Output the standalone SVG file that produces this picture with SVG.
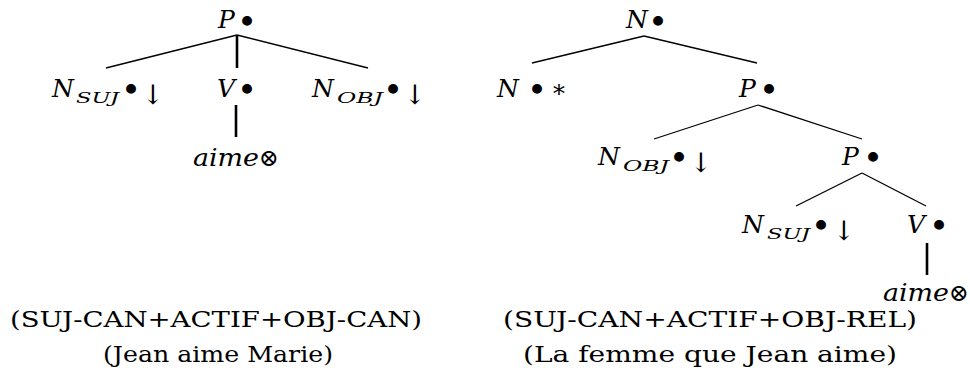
<svg xmlns="http://www.w3.org/2000/svg" width="970" height="382" viewBox="0 0 970 382" font-family="DejaVu Serif, serif">
<style>
text{fill:#000}
.m{font-size:25px;font-style:italic}
.s{font-size:15px;font-style:italic}
.b{font-size:34px;font-style:normal;text-anchor:middle}
.ar{font-size:27px;font-style:normal;text-anchor:middle}
.sym{font-size:24px;font-style:normal;text-anchor:middle}
.c{font-size:22px;text-anchor:middle}
.t{stroke:#000;stroke-width:1.3;fill:none}
.k{stroke:#000;stroke-width:2.6;fill:none}
</style>
<rect width="970" height="382" fill="#fff"/>
<g id="connectors">
<line class="t" x1="237" y1="35" x2="106" y2="68"/>
<line class="k" x1="237" y1="35" x2="237" y2="68"/>
<line class="t" x1="237" y1="35" x2="368" y2="68"/>
<line class="k" x1="236" y1="105" x2="236" y2="137"/>
<line class="t" x1="644" y1="36" x2="532" y2="63"/>
<line class="t" x1="644" y1="36" x2="757" y2="63"/>
<line class="t" x1="758" y1="105" x2="654" y2="139"/>
<line class="t" x1="758" y1="105" x2="862" y2="139"/>
<line class="t" x1="862" y1="173" x2="796" y2="206"/>
<line class="t" x1="862" y1="173" x2="926" y2="206"/>
<line class="k" x1="927" y1="243" x2="927" y2="275"/>
</g>
<g id="L_P"><text class="m" x="218" y="28">P</text><text class="b" x="247" y="33.5">•</text></g>
<g id="L_NSUJ"><text class="m" x="52" y="97">N</text><text class="s" x="76" y="103" textLength="43" lengthAdjust="spacingAndGlyphs">SUJ</text><text class="b" x="131" y="102">•</text><text class="ar" x="153" y="104">↓</text></g>
<g id="L_V"><text class="m" x="217" y="97">V</text><text class="b" x="247" y="102">•</text></g>
<g id="L_NOBJ"><text class="m" x="312" y="97">N</text><text class="s" x="337" y="103" textLength="46" lengthAdjust="spacingAndGlyphs">OBJ</text><text class="b" x="393" y="102">•</text><text class="ar" x="415" y="104">↓</text></g>
<g id="L_aime"><text class="m" x="193" y="166" textLength="66" lengthAdjust="spacingAndGlyphs">aime</text><text class="sym" x="269" y="166">⊗</text></g>
<g id="R_N"><text class="m" x="626" y="28">N</text><text class="b" x="658" y="33.5">•</text></g>
<g id="R_Nfoot"><text class="m" x="497" y="97">N</text><text class="b" x="537" y="102">•</text><text class="sym" x="559" y="97">∗</text></g>
<g id="R_P1"><text class="m" x="739" y="97">P</text><text class="b" x="769" y="102">•</text></g>
<g id="R_NOBJ"><text class="m" x="598" y="165">N</text><text class="s" x="623" y="171" textLength="46" lengthAdjust="spacingAndGlyphs">OBJ</text><text class="b" x="679" y="170">•</text><text class="ar" x="701" y="172">↓</text></g>
<g id="R_P2"><text class="m" x="842" y="165">P</text><text class="b" x="873" y="170">•</text></g>
<g id="R_NSUJ"><text class="m" x="742" y="233">N</text><text class="s" x="767" y="239" textLength="43" lengthAdjust="spacingAndGlyphs">SUJ</text><text class="b" x="821" y="238">•</text><text class="ar" x="844" y="240">↓</text></g>
<g id="R_V"><text class="m" x="907" y="233">V</text><text class="b" x="939" y="238">•</text></g>
<g id="R_aime"><text class="m" x="883" y="301" textLength="66" lengthAdjust="spacingAndGlyphs">aime</text><text class="sym" x="959" y="301">⊗</text></g>
<g id="captions">
<text class="c" x="216" y="327" textLength="412" lengthAdjust="spacingAndGlyphs">(SUJ-CAN+ACTIF+OBJ-CAN)</text>
<text class="c" x="218" y="362" textLength="230" lengthAdjust="spacingAndGlyphs">(Jean aime Marie)</text>
<text class="c" x="710" y="327" textLength="414" lengthAdjust="spacingAndGlyphs">(SUJ-CAN+ACTIF+OBJ-REL)</text>
<text class="c" x="710" y="362" textLength="374" lengthAdjust="spacingAndGlyphs">(La femme que Jean aime)</text>
</g>
</svg>
